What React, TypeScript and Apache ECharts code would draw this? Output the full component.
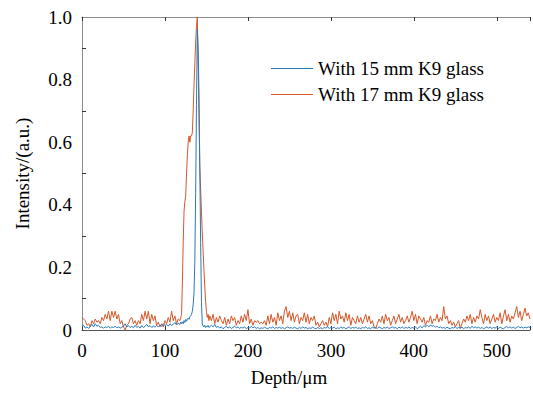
import React, { useEffect, useRef } from "react";
import * as echarts from "echarts";

// Depth sampling segments (µm): start and step for each block of values
const segStartA = 0;
const segStepA = 2;
const segStartPeak = 118;
const segStepPeak = 1;
const segStartB = 156;
const segStepB = 2;

const xTicks = [0, 100, 200, 300, 400, 500];
const yTickLabels = ["0", "0.2", "0.4", "0.6", "0.8", "1.0"];
const seriesNames = ["With 15 mm K9 glass", "With 17 mm K9 glass"];

// With 15 mm K9 glass (blue)
const blueA = [
  0.012, 0.015, 0.006, 0.01, 0.005, 0.012, 0.018, 0.01, 0.02, 0.012,
  0.015, 0.008, 0.01, 0.006, 0.01, 0.008, 0.012, 0.006, 0.01, 0.008,
  0.012, 0.007, 0.01, 0.006, 0.009, 0.012, 0.02, 0.01, 0.014, 0.008,
  0.012, 0.007, 0.015, 0.008, 0.012, 0.006, 0.014, 0.008, 0.012, 0.018,
  0.01, 0.014, 0.008, 0.012, 0.009, 0.014, 0.01, 0.016, 0.012, 0.02,
  0.014, 0.018, 0.012, 0.02, 0.015, 0.018, 0.024, 0.016, 0.022,
];
const bluePeak = [
  0.018, 0.025, 0.02, 0.026, 0.02, 0.03, 0.024, 0.034, 0.028, 0.035,
  0.038, 0.034, 0.042, 0.045, 0.05, 0.06, 0.08, 0.12, 0.22, 0.44,
  0.72, 0.96, 0.9, 0.76, 0.52, 0.28, 0.09, 0.02, 0.012, 0.01,
  0.015, 0.008, 0.012, 0.01, 0.015, 0.008, 0.01,
];
const blueB = [
  0.015, 0.01, 0.018, 0.008, 0.012, 0.006, 0.01, 0.004, 0.008, 0.012,
  0.006, 0.01, 0.005, 0.008, 0.012, 0.007, 0.01, 0.005, 0.009, 0.006,
  0.01, 0.004, 0.008, 0.006, 0.012, 0.007, 0.01, 0.005, 0.008, 0.004,
  0.007, 0.005, 0.009, 0.006, 0.004, 0.008, 0.006, 0.01, 0.005, 0.008,
  0.006, 0.009, 0.005, 0.008, 0.004, 0.007, 0.01, 0.006, 0.008, 0.005,
  0.009, 0.006, 0.004, 0.008, 0.005, 0.01, 0.006, 0.008, 0.004, 0.007,
  0.005, 0.009, 0.006, 0.004, 0.008, 0.005, 0.007, 0.004, 0.008, 0.006,
  0.01, 0.005, 0.008, 0.006, 0.009, 0.004, 0.007, 0.005, 0.01, 0.006,
  0.008, 0.004, 0.007, 0.01, 0.005, 0.008, 0.006, 0.009, 0.005, 0.007,
  0.004, 0.008, 0.006, 0.01, 0.005, 0.007, 0.004, 0.009, 0.006, 0.008,
  0.005, 0.01, 0.007, 0.004, 0.008, 0.006, 0.009, 0.005, 0.007, 0.01,
  0.006, 0.008, 0.004, 0.009, 0.006, 0.01, 0.005, 0.008, 0.006, 0.009,
  0.005, 0.008, 0.006, 0.01, 0.004, 0.008, 0.012, 0.007, 0.014, 0.01,
  0.015, 0.01, 0.016, 0.012, 0.014, 0.009, 0.012, 0.007, 0.01, 0.006,
  0.008, 0.005, 0.009, 0.006, 0.004, 0.008, 0.006, 0.01, 0.005, 0.008,
  0.006, 0.009, 0.004, 0.008, 0.006, 0.01, 0.005, 0.012, 0.007, 0.01,
  0.006, 0.009, 0.005, 0.008, 0.004, 0.007, 0.01, 0.006, 0.009, 0.005,
  0.008, 0.006, 0.01, 0.005, 0.009, 0.006, 0.004, 0.008, 0.011, 0.007,
  0.01, 0.006, 0.009, 0.005, 0.008, 0.012, 0.007, 0.01, 0.006, 0.009,
  0.007, 0.01, 0.008,
];

// With 17 mm K9 glass (red)
const redA = [
  0.04, 0.035, 0.03, 0.015, 0.02, 0.01, 0.03, 0.02, 0.035, 0.025,
  0.03, 0.02, 0.04, 0.03, 0.05, 0.035, 0.06, 0.03, 0.06, 0.04,
  0.06, 0.035, 0.05, 0.02, 0.03, 0.01, 0.0, 0.015, 0.02, 0.035,
  0.04, 0.02, 0.03, 0.015, 0.03, 0.02, 0.05, 0.03, 0.06, 0.035,
  0.06, 0.02, 0.05, 0.03, 0.045, 0.015, 0.025, 0.01, 0.02, 0.01,
  0.03, 0.02, 0.04, 0.025, 0.06, 0.03, 0.045, 0.02, 0.035,
];
const redPeak = [
  0.03, 0.04, 0.05, 0.15, 0.28, 0.38, 0.41, 0.43, 0.5, 0.56,
  0.6, 0.62, 0.6, 0.62, 0.62, 0.63, 0.7, 0.78, 0.85, 0.92,
  0.97, 1.0, 0.85, 0.68, 0.52, 0.45, 0.38, 0.31, 0.25, 0.19,
  0.14, 0.09, 0.06, 0.04, 0.05, 0.03, 0.045,
];
const redB = [
  0.03, 0.05, 0.02, 0.04, 0.025, 0.045, 0.03, 0.02, 0.04, 0.015,
  0.035, 0.02, 0.045, 0.03, 0.04, 0.015, 0.03, 0.02, 0.045, 0.025,
  0.05, 0.03, 0.065, 0.02, 0.035, 0.015, 0.03, 0.025, 0.03, 0.02,
  0.025, 0.02, 0.03, 0.015, 0.045, 0.02, 0.05, 0.025, 0.04, 0.015,
  0.055, 0.03, 0.045, 0.02, 0.06, 0.075, 0.04, 0.06, 0.03, 0.055,
  0.025, 0.045, 0.05, 0.02, 0.04, 0.03, 0.055, 0.025, 0.05, 0.02,
  0.04, 0.03, 0.045, 0.015, 0.025, 0.01, 0.02, 0.03, 0.015, 0.025,
  0.01, 0.04, 0.02, 0.055, 0.03, 0.05, 0.02, 0.06, 0.035, 0.045,
  0.025, 0.055, 0.03, 0.05, 0.015, 0.04, 0.03, 0.02, 0.045, 0.025,
  0.04, 0.02, 0.035, 0.05, 0.025, 0.045, 0.02, 0.03, 0.01, 0.005,
  0.02, 0.035, 0.025, 0.045, 0.02, 0.05, 0.03, 0.04, 0.015, 0.03,
  0.045, 0.02, 0.035, 0.05, 0.025, 0.04, 0.02, 0.03, 0.045, 0.025,
  0.04, 0.06, 0.03, 0.05, 0.02, 0.045, 0.035, 0.025, 0.04, 0.015,
  0.03, 0.025, 0.045, 0.02, 0.035, 0.03, 0.05, 0.025, 0.04, 0.03,
  0.075, 0.035, 0.045, 0.02, 0.03, 0.015, 0.025, 0.01, 0.02, 0.03,
  0.005, 0.02, 0.035, 0.025, 0.045, 0.03, 0.05, 0.02, 0.04, 0.025,
  0.045, 0.035, 0.065, 0.04, 0.02, 0.05, 0.03, 0.045, 0.02, 0.035,
  0.05, 0.025, 0.04, 0.03, 0.055, 0.02, 0.045, 0.065, 0.03, 0.05,
  0.025, 0.045, 0.035, 0.055, 0.075, 0.04, 0.06, 0.03, 0.05, 0.07,
  0.045, 0.055, 0.035,
];

function toPairs(a: number[], p: number[], b: number[]): number[][] {
  const out: number[][] = [];
  a.forEach((v, i) => out.push([segStartA + i * segStepA, v]));
  p.forEach((v, i) => out.push([segStartPeak + i * segStepPeak, v]));
  b.forEach((v, i) => out.push([segStartB + i * segStepB, v]));
  return out;
}

const FONT = "Times New Roman";
const INK = "#000000";
const BLUE = "#2b79b9";
const RED = "#d4582a";

export default function App() {
  const ref = useRef<HTMLDivElement>(null);
  useEffect(() => {
    document.body.style.margin = "0";
    if (!ref.current) return;
    const chart = echarts.init(ref.current, undefined, { renderer: "svg" });
    const axisGray = "#8c8c8c";
    chart.setOption({
      animation: false,
      grid: { left: 82, right: 0, top: 17, bottom: 63, containLabel: false },
      legend: {
        orient: "vertical",
        left: 266,
        top: 54,
        itemWidth: 42,
        itemHeight: 1,
        itemGap: 7,
        icon: "rect",
        data: seriesNames,
        textStyle: { fontFamily: FONT, fontSize: 19, color: INK, lineHeight: 19 },
      },
      xAxis: [
        {
          type: "value",
          min: 0,
          max: 540,
          interval: 100,
          position: "bottom",
          name: "Depth/μm",
          nameLocation: "middle",
          nameGap: 38,
          nameTextStyle: { fontFamily: FONT, fontSize: 19, color: INK, padding: [0, 34, 0, 0] },
          axisLine: { show: true, lineStyle: { color: "#555555", width: 1 } },
          axisTick: { show: true, inside: true, length: 4, lineStyle: { color: "#333333" } },
          axisLabel: {
            fontFamily: FONT,
            fontSize: 19,
            color: INK,
            margin: 11,
            formatter: (v: number) => (xTicks.includes(v) ? String(v) : ""),
          },
          splitLine: { show: false },
        },
        {
          type: "value",
          min: 0,
          max: 540,
          interval: 100,
          position: "top",
          axisLine: { show: true, lineStyle: { color: axisGray, width: 1 } },
          axisTick: { show: true, inside: true, length: 4, lineStyle: { color: "#333333" } },
          axisLabel: { show: false },
          splitLine: { show: false },
        },
      ],
      yAxis: {
        type: "value",
        min: 0,
        max: 1,
        interval: 0.2,
        name: "Intensity/(a.u.)",
        nameLocation: "middle",
        nameGap: 50,
        nameTextStyle: { fontFamily: FONT, fontSize: 19, color: INK },
        axisLine: { show: true, lineStyle: { color: axisGray, width: 1 } },
        axisTick: { show: false, inside: true },
        minorTick: { show: true, splitNumber: 2, length: 4, lineStyle: { color: "#333333" } },
        axisLabel: {
          fontFamily: FONT,
          fontSize: 19,
          color: INK,
          margin: 10,
          formatter: (v: number) => yTickLabels[Math.round(v * 5)] ?? "",
        },
        splitLine: { show: false },
      },
      series: [
        {
          name: seriesNames[0],
          type: "line",
          data: toPairs(blueA, bluePeak, blueB),
          symbol: "none",
          lineStyle: { color: BLUE, width: 1 },
          itemStyle: { color: BLUE },
          z: 3,
        },
        {
          name: seriesNames[1],
          type: "line",
          data: toPairs(redA, redPeak, redB),
          symbol: "none",
          lineStyle: { color: RED, width: 1 },
          itemStyle: { color: RED },
          z: 2,
        },
      ],
    });
    return () => chart.dispose();
  }, []);
  return <div ref={ref} style={{ width: 533, height: 393 }} />;
}
